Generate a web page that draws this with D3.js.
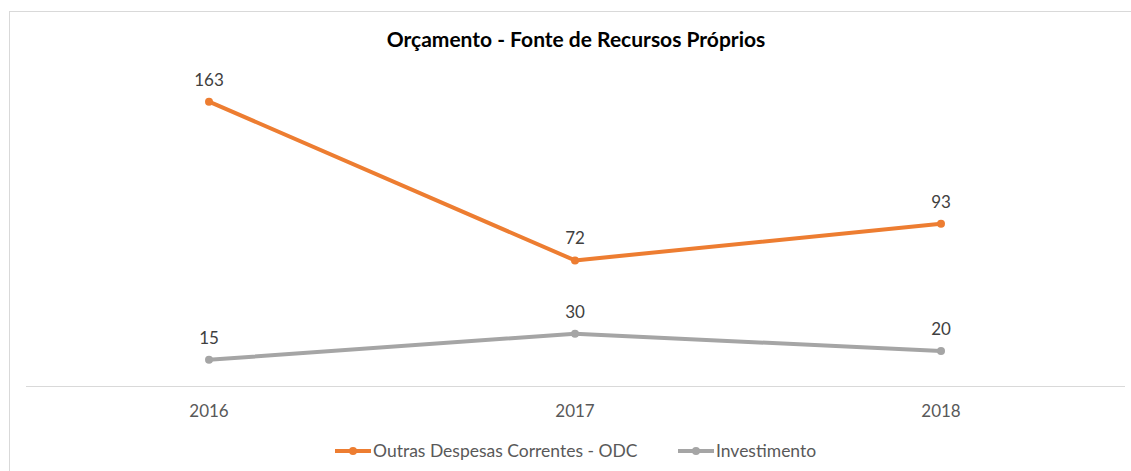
<!DOCTYPE html>
<html>
<head>
<meta charset="utf-8">
<script src="https://cdn.jsdelivr.net/npm/d3@7"></script>
<style>
  body { margin: 0; background: #fff; }
  text { font-family: Lato, "Open Sans", sans-serif; }
</style>
</head>
<body>
<script>
// chart data
var years = ["2016", "2017", "2018"];
var odc = [163, 72, 93];
var investimento = [15, 30, 20];
var seriesNames = ["Outras Despesas Correntes - ODC", "Investimento"];
var seriesColors = ["#ED7D31", "#A5A5A5"];

var width = 1131, height = 471;

var svg = d3.select("body").append("svg")
  .attr("width", width)
  .attr("height", height);

// chart border (runs off right and bottom edges)
svg.append("rect")
  .attr("x", 9.5).attr("y", 11.5)
  .attr("width", 1140).attr("height", 480)
  .attr("fill", "#fff")
  .attr("stroke", "#d9d9d9")
  .attr("stroke-width", 1);

svg.append("text")
  .attr("x", 576).attr("y", 47)
  .attr("text-anchor", "middle")
  .style("font-size", "21px")
  .style("font-weight", "bold")
  .attr("fill", "#000")
  .text("Orçamento - Fonte de Recursos Próprios");

// scales
var x = d3.scalePoint().domain(years).range([209, 941]);
var y = d3.scaleLinear().domain([0, 180]).range([386, 72]);

// x axis line
svg.append("line")
  .attr("x1", 26).attr("x2", 1125)
  .attr("y1", y(0) + 0.5).attr("y2", y(0) + 0.5)
  .attr("stroke", "#d9d9d9").attr("stroke-width", 1);

svg.selectAll(".xlab")
  .data(years)
  .enter().append("text")
  .attr("class", "xlab")
  .attr("x", function(d) { return x(d); })
  .attr("y", 417)
  .attr("text-anchor", "middle")
  .style("font-size", "17px")
  .attr("fill", "#595959")
  .text(function(d) { return d; });

var line = d3.line()
  .x(function(d) { return x(d.year); })
  .y(function(d) { return y(d.value); });

[odc, investimento].forEach(function(vals, s) {
  var pts = vals.map(function(v, i) { return { year: years[i], value: v }; });
  svg.append("path")
    .datum(pts)
    .attr("d", line)
    .attr("fill", "none")
    .attr("stroke", seriesColors[s])
    .attr("stroke-width", 4)
    .attr("stroke-linejoin", "round")
    .attr("stroke-linecap", "round");
  svg.selectAll(".pt" + s)
    .data(pts)
    .enter().append("circle")
    .attr("cx", function(d) { return x(d.year); })
    .attr("cy", function(d) { return y(d.value); })
    .attr("r", 4)
    .attr("fill", seriesColors[s]);
  svg.selectAll(".lab" + s)
    .data(pts)
    .enter().append("text")
    .attr("x", function(d) { return x(d.year); })
    .attr("y", function(d) { return y(d.value) - 16; })
    .attr("text-anchor", "middle")
    .style("font-size", "17px")
    .attr("fill", "#404040")
    .text(function(d) { return d.value; });
});

// legend
var legendX = [335, 678];
seriesNames.forEach(function(name, s) {
  var g = svg.append("g").attr("transform", "translate(" + legendX[s] + ",451)");
  g.append("line")
    .attr("x1", 0).attr("x2", 36)
    .attr("stroke", seriesColors[s]).attr("stroke-width", 4);
  g.append("circle").attr("cx", 18).attr("r", 4).attr("fill", seriesColors[s]);
  g.append("text")
    .attr("x", 38).attr("y", 6)
    .style("font-size", "17.5px")
    .attr("fill", "#595959")
    .text(name);
});
</script>
</body>
</html>
